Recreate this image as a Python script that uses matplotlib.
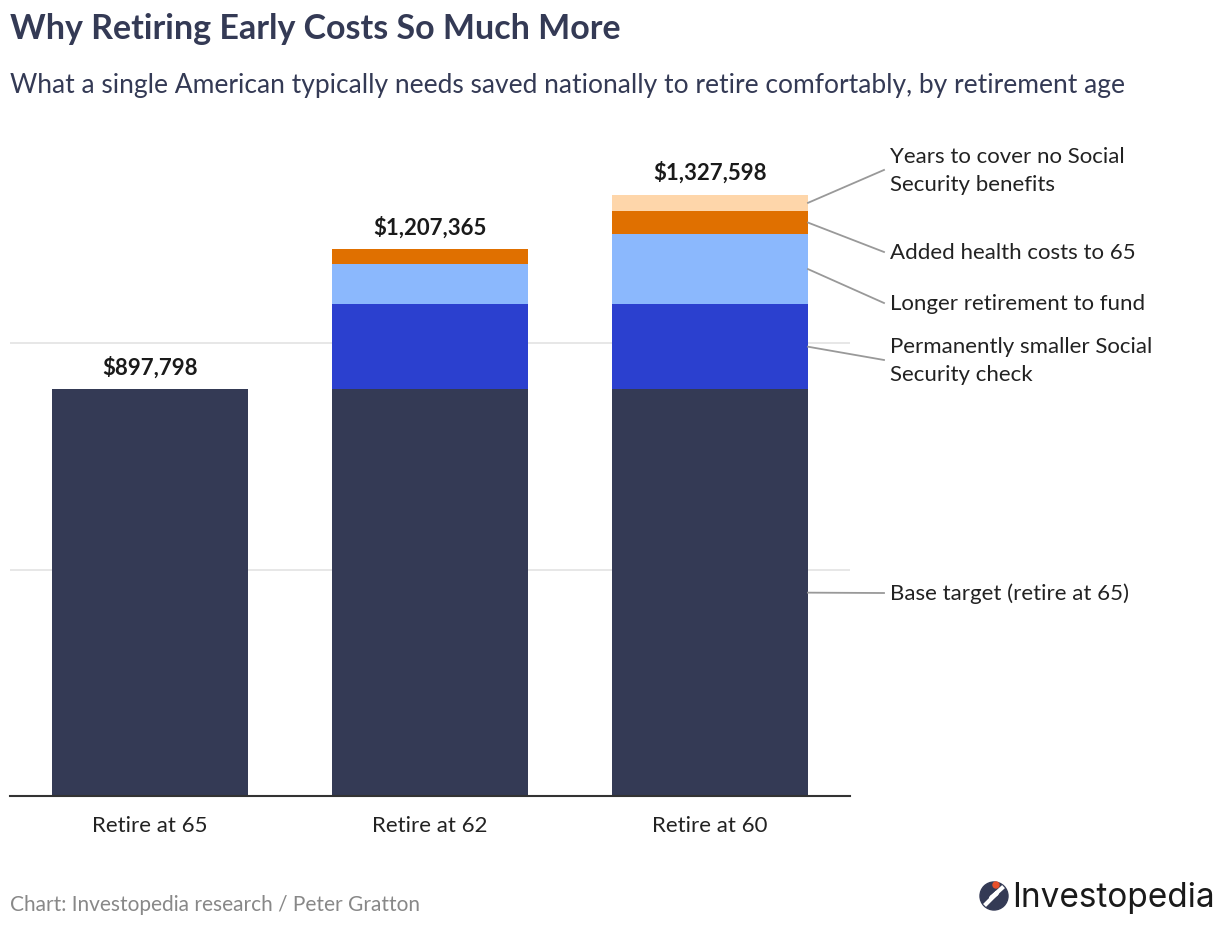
import numpy as np
import matplotlib.pyplot as plt
from matplotlib.patches import Circle
from matplotlib.lines import Line2D

# data
categories = ['Retire at 65', 'Retire at 62', 'Retire at 60']
totals = [897798, 1207365, 1327598]
base_target = [897798, 897798, 897798]
smaller_ss = [0, 188000, 188000]
longer_retirement = [0, 88000, 154600]
health_costs = [0, 33567, 50800]
no_ss_years = [0, 0, 36400]

segment_names = ['Base target (retire at 65)',
                 'Permanently smaller Social\nSecurity check',
                 'Longer retirement to fund',
                 'Added health costs to 65',
                 'Years to cover no Social\nSecurity benefits']
segments = [base_target, smaller_ss, longer_retirement, health_costs, no_ss_years]
colors = ['#343a55', '#2b40cf', '#8bb8fd', '#e07000', '#fed6aa']
# where each label sits on the right (value units)
label_y = [448100, 962500, 1088300, 1200900, 1382000]

NAVY = '#343a55'
plt.rcParams['font.family'] = ['Lato', 'DejaVu Sans']

W, H = 1220, 928
fig = plt.figure(figsize=(W / 100, H / 100), dpi=100)
px_per_m = 453.0  # pixels per 1,000,000
ax_top = 130
ax = fig.add_axes([10 / W, 1 - 797 / H, 840 / W, (797 - ax_top) / H])
ax.set_xlim(-0.5, 2.5)
ax.set_ylim(0, (797 - ax_top) / px_per_m * 1e6)

x = np.arange(len(categories))
width = 0.7
bottom = np.zeros(len(categories))
for vals, c in zip(segments, colors):
    vals = np.array(vals, dtype=float)
    ax.bar(x, vals, width, bottom=bottom, color=c, zorder=2, linewidth=0)
    bottom += vals

for xi, t in zip(x, totals):
    ax.text(xi, t + 23 / px_per_m * 1e6, '${:,}'.format(t), ha='center', va='center',
            fontsize=16, fontweight='bold', color='#1a1a1a')

# gridlines
for g in [500000, 1000000]:
    ax.axhline(g, color='#e3e3e3', lw=1.2, zorder=1)

# leader lines for last bar
last = len(categories) - 1
cum = 0
x0 = last + width / 2
x1 = x0 + 76 / 280
for vals, name, ly in zip(segments, segment_names, label_y):
    v = vals[last]
    mid = cum + v / 2
    cum += v
    ax.plot([x0, x1], [mid, ly], color='#999999', lw=1.3, clip_on=False)
    ax.text(x1 + 6 / 280, ly, name, ha='left', va='center', fontsize=16,
            color='#222222', linespacing=1.5)

for s in ['left', 'right', 'top']:
    ax.spines[s].set_visible(False)
ax.spines['bottom'].set_color('#333333')
ax.spines['bottom'].set_linewidth(1.5)
ax.set_yticks([])
ax.set_xticks(x)
ax.set_xticklabels(categories, fontsize=16, color='#222222')
ax.tick_params(axis='x', length=0, pad=14)

# titles
fig.text(10 / W, 1 - 29 / H, 'Why Retiring Early Costs So Much More', ha='left', va='center',
         fontsize=24.5, fontweight='bold', color=NAVY)
fig.text(10 / W, 1 - 86 / H,
         'What a single American typically needs saved nationally to retire comfortably, by retirement age',
         ha='left', va='center', fontsize=19, color=NAVY)
fig.text(10 / W, 1 - 905 / H, 'Chart: Investopedia research / Peter Gratton', ha='left', va='center',
         fontsize=15, color='#888888')

# logo
fig.patches.append(Circle((994, H - 897), 14, transform=None, color=NAVY))
fig.lines.append(Line2D([986, 997, 991, 1002], [H - 905, H - 894, H - 899, H - 889],
                        transform=None, color='white', lw=3))
fig.patches.append(Circle((996, H - 886), 3, transform=None, color='#e8502a'))
fig.text(1012 / W, 1 - 898 / H, 'Investopedia', ha='left', va='center',
         fontsize=24, color='#1a1a1a', family=['Inter', 'DejaVu Sans'])

fig.savefig('out.png', dpi=100)
